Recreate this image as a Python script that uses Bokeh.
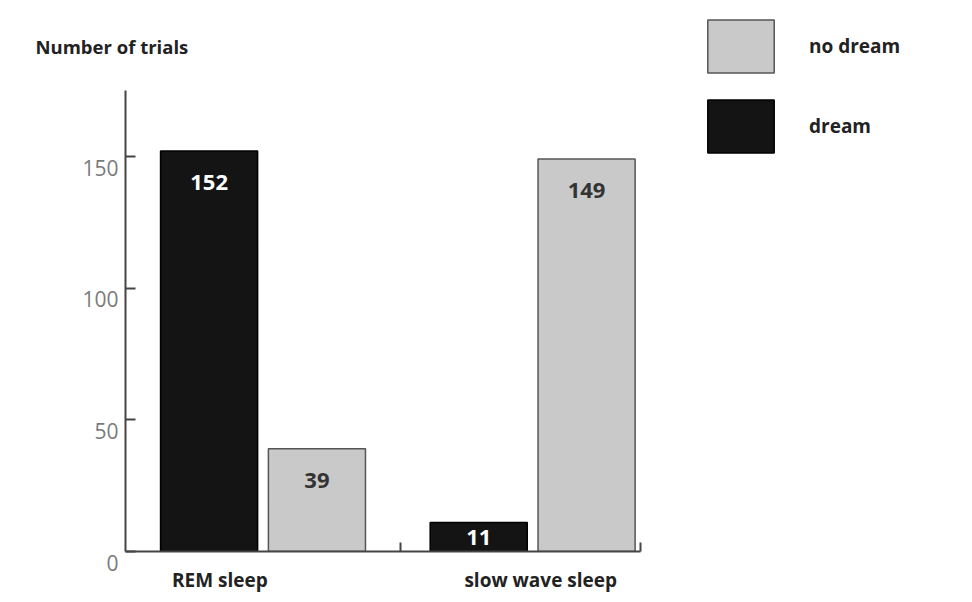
from bokeh.plotting import figure
from bokeh.models import ColumnDataSource, Range1d, FixedTicker, Legend, LegendItem
from bokeh.layouts import row
from bokeh.core.properties import value
from bokeh.embed import file_html
from bokeh.resources import INLINE

# ---- data ----
categories = ["REM sleep", "slow wave sleep"]
dream = [152, 11]
no_dream = [39, 149]
y_ticks = [0, 50, 100, 150]
series_names = ["dream", "no dream"]

FONT = "Open Sans"
BLACK = "#141414"
GRAY = "#c9c9c9"
AXIS = "#444444"

idx = list(range(len(categories)))
x_dream = [i - 0.2 for i in idx]
x_nodream = [i + 0.2 for i in idx]

p = figure(width=690, height=600,
           x_range=Range1d(-0.51, 1.4), y_range=Range1d(0, 175),
           output_backend="svg", toolbar_location=None,
           min_border_left=125, min_border_right=50,
           min_border_top=90, min_border_bottom=49)
p.frame_align = False
p.outline_line_color = None
p.xgrid.visible = False
p.ygrid.visible = False
p.background_fill_color = "white"
p.border_fill_color = "white"

src_d = ColumnDataSource(dict(x=x_dream, top=dream))
src_n = ColumnDataSource(dict(x=x_nodream, top=no_dream))
p.vbar(x="x", top="top", bottom=0, width=0.36, source=src_d,
       fill_color=BLACK, line_color="#000000", line_width=1.5)
p.vbar(x="x", top="top", bottom=0, width=0.36, source=src_n,
       fill_color=GRAY, line_color="#555555", line_width=1.5)

# value labels inside bars
lab_x = x_dream + x_nodream
lab_v = dream + no_dream
lab_y = [v - min(v / 2.0, 12) for v in lab_v]
lab_c = ["white"] * len(dream) + ["#333333"] * len(no_dream)
src_l = ColumnDataSource(dict(x=lab_x, y=lab_y, t=[str(v) for v in lab_v], c=lab_c))
p.text(x="x", y="y", text="t", source=src_l, text_color="c",
       text_align="center", text_baseline="middle",
       text_font=value(FONT), text_font_style="bold", text_font_size="22px")

# y axis (labels sit a little below their ticks, as in the original)
yax = p.yaxis[0]
yax.ticker = FixedTicker(ticks=y_ticks)
yax.major_label_overrides = {t: "\n" + str(t) for t in y_ticks}
yax.major_label_standoff = 7
yax.major_tick_in = 10
yax.major_tick_out = 0
yax.minor_tick_in = 0
yax.minor_tick_out = 0
yax.axis_line_width = 2
yax.axis_line_color = AXIS
yax.major_tick_line_color = AXIS
yax.major_tick_line_width = 2
yax.major_label_text_font = FONT
yax.major_label_text_font_size = "21px"
yax.major_label_text_line_height = 0.8
yax.major_label_text_color = "#7a7a7a"

# x axis
label_pos = [-0.16, 1.03]
xax = p.xaxis[0]
xax.ticker = FixedTicker(ticks=label_pos, minor_ticks=[0.51, 1.4])
xax.major_label_overrides = {pos: name for pos, name in zip(label_pos, categories)}
xax.major_tick_in = 0
xax.major_tick_out = 0
xax.minor_tick_in = 9
xax.minor_tick_out = 0
xax.minor_tick_line_color = AXIS
xax.minor_tick_line_width = 2
xax.axis_line_width = 2
xax.axis_line_color = AXIS
xax.major_label_standoff = 15
xax.major_label_text_font = FONT
xax.major_label_text_font_size = "19px"
xax.major_label_text_font_style = "bold"
xax.major_label_text_color = "#222222"

# title
p.title.text = "Number of trials"
p.title.align = "left"
p.title.offset = -90
p.title.standoff = 63
p.title.text_font = FONT
p.title.text_font_size = "18.5px"
p.title.text_font_style = "bold"
p.title.text_color = "#222222"

# legend panel (its swatches come from hidden copies of the bar renderers)
q = figure(width=280, height=600, x_range=Range1d(20, 21), y_range=Range1d(1000, 1001),
           output_backend="svg", toolbar_location=None, min_border=0,
           x_axis_location=None, y_axis_location=None, title=None)
q.frame_align = False
q.outline_line_color = None
q.xgrid.visible = False
q.ygrid.visible = False
q.background_fill_color = "white"
q.border_fill_color = "white"
lg_d = q.vbar(x="x", top="top", bottom=0, width=0.36, source=src_d,
              fill_color=BLACK, line_color="#000000", line_width=1.5)
lg_n = q.vbar(x="x", top="top", bottom=0, width=0.36, source=src_n,
              fill_color=GRAY, line_color="#555555", line_width=1.5)
lg_d.visible = False
lg_n.visible = False

legend = Legend(items=[LegendItem(label=series_names[1], renderers=[lg_n]),
                       LegendItem(label=series_names[0], renderers=[lg_d])],
                location=(9, 441), orientation="vertical", click_policy="none",
                inactive_fill_alpha=0,
                glyph_width=83, glyph_height=66, spacing=14, label_standoff=27,
                padding=0, margin=0, border_line_color=None,
                background_fill_alpha=0,
                label_text_font=FONT, label_text_font_size="19px",
                label_text_font_style="bold", label_text_color="#222222")
q.add_layout(legend, "center")

layout = row(p, q, spacing=0)
open("out.html", "w").write(file_html(layout, INLINE))
